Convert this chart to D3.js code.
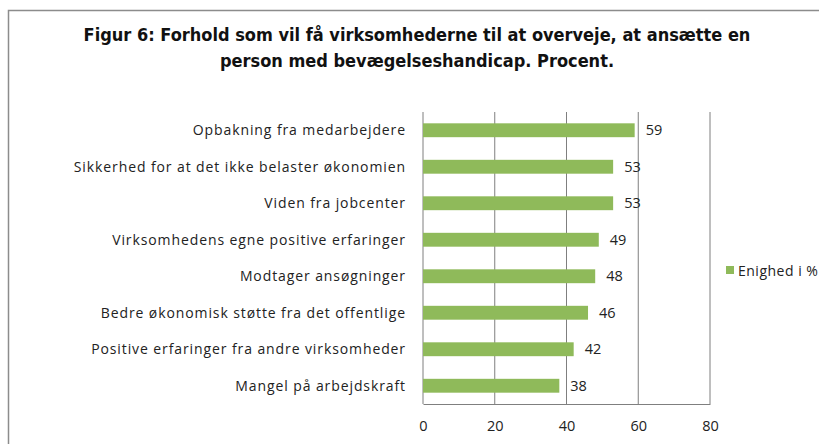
<!DOCTYPE html>
<html>
<head>
<meta charset="utf-8">
<script src="https://cdn.jsdelivr.net/npm/d3@7"></script>
<style>
  body { margin: 0; background: #fff; }
  svg { display: block; }
</style>
</head>
<body>
<div id="chart"></div>
<script>
// dati
const kategorier = [
  "Opbakning fra medarbejdere",
  "Sikkerhed for at det ikke belaster økonomien",
  "Viden fra jobcenter",
  "Virksomhedens egne positive erfaringer",
  "Modtager ansøgninger",
  "Bedre økonomisk støtte fra det offentlige",
  "Positive erfaringer fra andre virksomheder",
  "Mangel på arbejdskraft"
];
const enighed = [59, 53, 53, 49, 48, 46, 42, 38];
const xTicks = [0, 20, 40, 60, 80];
const titel = [
  "Figur 6: Forhold som vil få virksomhederne til at overveje, at ansætte en",
  "person med bevægelseshandicap. Procent."
];
const serieNavn = "Enighed i %";

const width = 819, height = 444;
const margin = { top: 112, left: 423, right: 109, bottom: 40 };

const svg = d3.select("#chart").append("svg")
  .attr("width", width)
  .attr("height", height);

// cornice grigia
svg.append("path")
  .attr("d", `M8.5,${height} V10.5 H${width}`)
  .attr("fill", "none")
  .attr("stroke", "#8c8c8c")
  .attr("stroke-width", 1.5);

// titolo
svg.append("g")
  .selectAll("text")
  .data(titel)
  .enter().append("text")
  .attr("x", 417)
  .attr("y", (d, i) => 41 + i * 26)
  .attr("text-anchor", "middle")
  .style("font-family", "'Liberation Sans Narrow', 'DejaVu Sans Condensed', sans-serif")
  .style("font-weight", "bold")
  .style("font-size", "18px")
  .style("fill", "#111")
  .text(d => d);

const x = d3.scaleLinear().domain([0, 80]).range([margin.left, width - margin.right]);
const y = d3.scaleBand().domain(kategorier)
  .range([margin.top, height - margin.bottom])
  .paddingInner(0.62).paddingOuter(0.31);

// griglia verticale
svg.append("g")
  .selectAll("line")
  .data(xTicks)
  .enter().append("line")
  .attr("x1", d => x(d)).attr("x2", d => x(d))
  .attr("y1", margin.top).attr("y2", height - margin.bottom)
  .style("stroke", "#7f7f7f")
  .style("stroke-width", 1);

// asse x
const xAxis = svg.append("g")
  .attr("transform", `translate(0,${height - margin.bottom})`)
  .call(d3.axisBottom(x).tickValues(xTicks).tickSize(0).tickPadding(17));
xAxis.select(".domain").attr("stroke", "#7f7f7f");
xAxis.selectAll("text")
  .style("font-family", "'Open Sans', sans-serif")
  .style("font-size", "14.5px")
  .style("fill", "#222");

// barre
svg.append("g")
  .selectAll("rect")
  .data(enighed)
  .enter().append("rect")
  .attr("x", x(0))
  .attr("y", (d, i) => y(kategorier[i]))
  .attr("width", d => x(d) - x(0))
  .attr("height", y.bandwidth())
  .style("fill", "#8fba5a");

// etichette valori
svg.append("g")
  .selectAll("text")
  .data(enighed)
  .enter().append("text")
  .attr("x", d => x(d) + 11)
  .attr("y", (d, i) => y(kategorier[i]) + y.bandwidth() / 2 + 5)
  .style("font-family", "'Open Sans', sans-serif")
  .style("font-size", "14.5px")
  .style("fill", "#222")
  .text(d => d);

// etichette categorie
svg.append("g")
  .selectAll("text")
  .data(kategorier)
  .enter().append("text")
  .attr("x", 406)
  .attr("y", d => y(d) + y.bandwidth() / 2 + 5)
  .attr("text-anchor", "end")
  .style("font-family", "'Open Sans', sans-serif")
  .style("font-size", "14px")
  .style("letter-spacing", "0.9px")
  .style("fill", "#222")
  .text(d => d);

// legenda (tagliata al bordo destro come nell'originale)
const legend = svg.append("g").attr("transform", "translate(726,266)");
legend.append("rect")
  .attr("width", 8).attr("height", 8)
  .style("fill", "#8fba5a");
legend.append("text")
  .attr("x", 12).attr("y", 9.5)
  .style("font-family", "'Open Sans', sans-serif")
  .style("font-size", "14px")
  .style("letter-spacing", "0.5px")
  .style("fill", "#222")
  .text(serieNavn);
</script>
</body>
</html>
